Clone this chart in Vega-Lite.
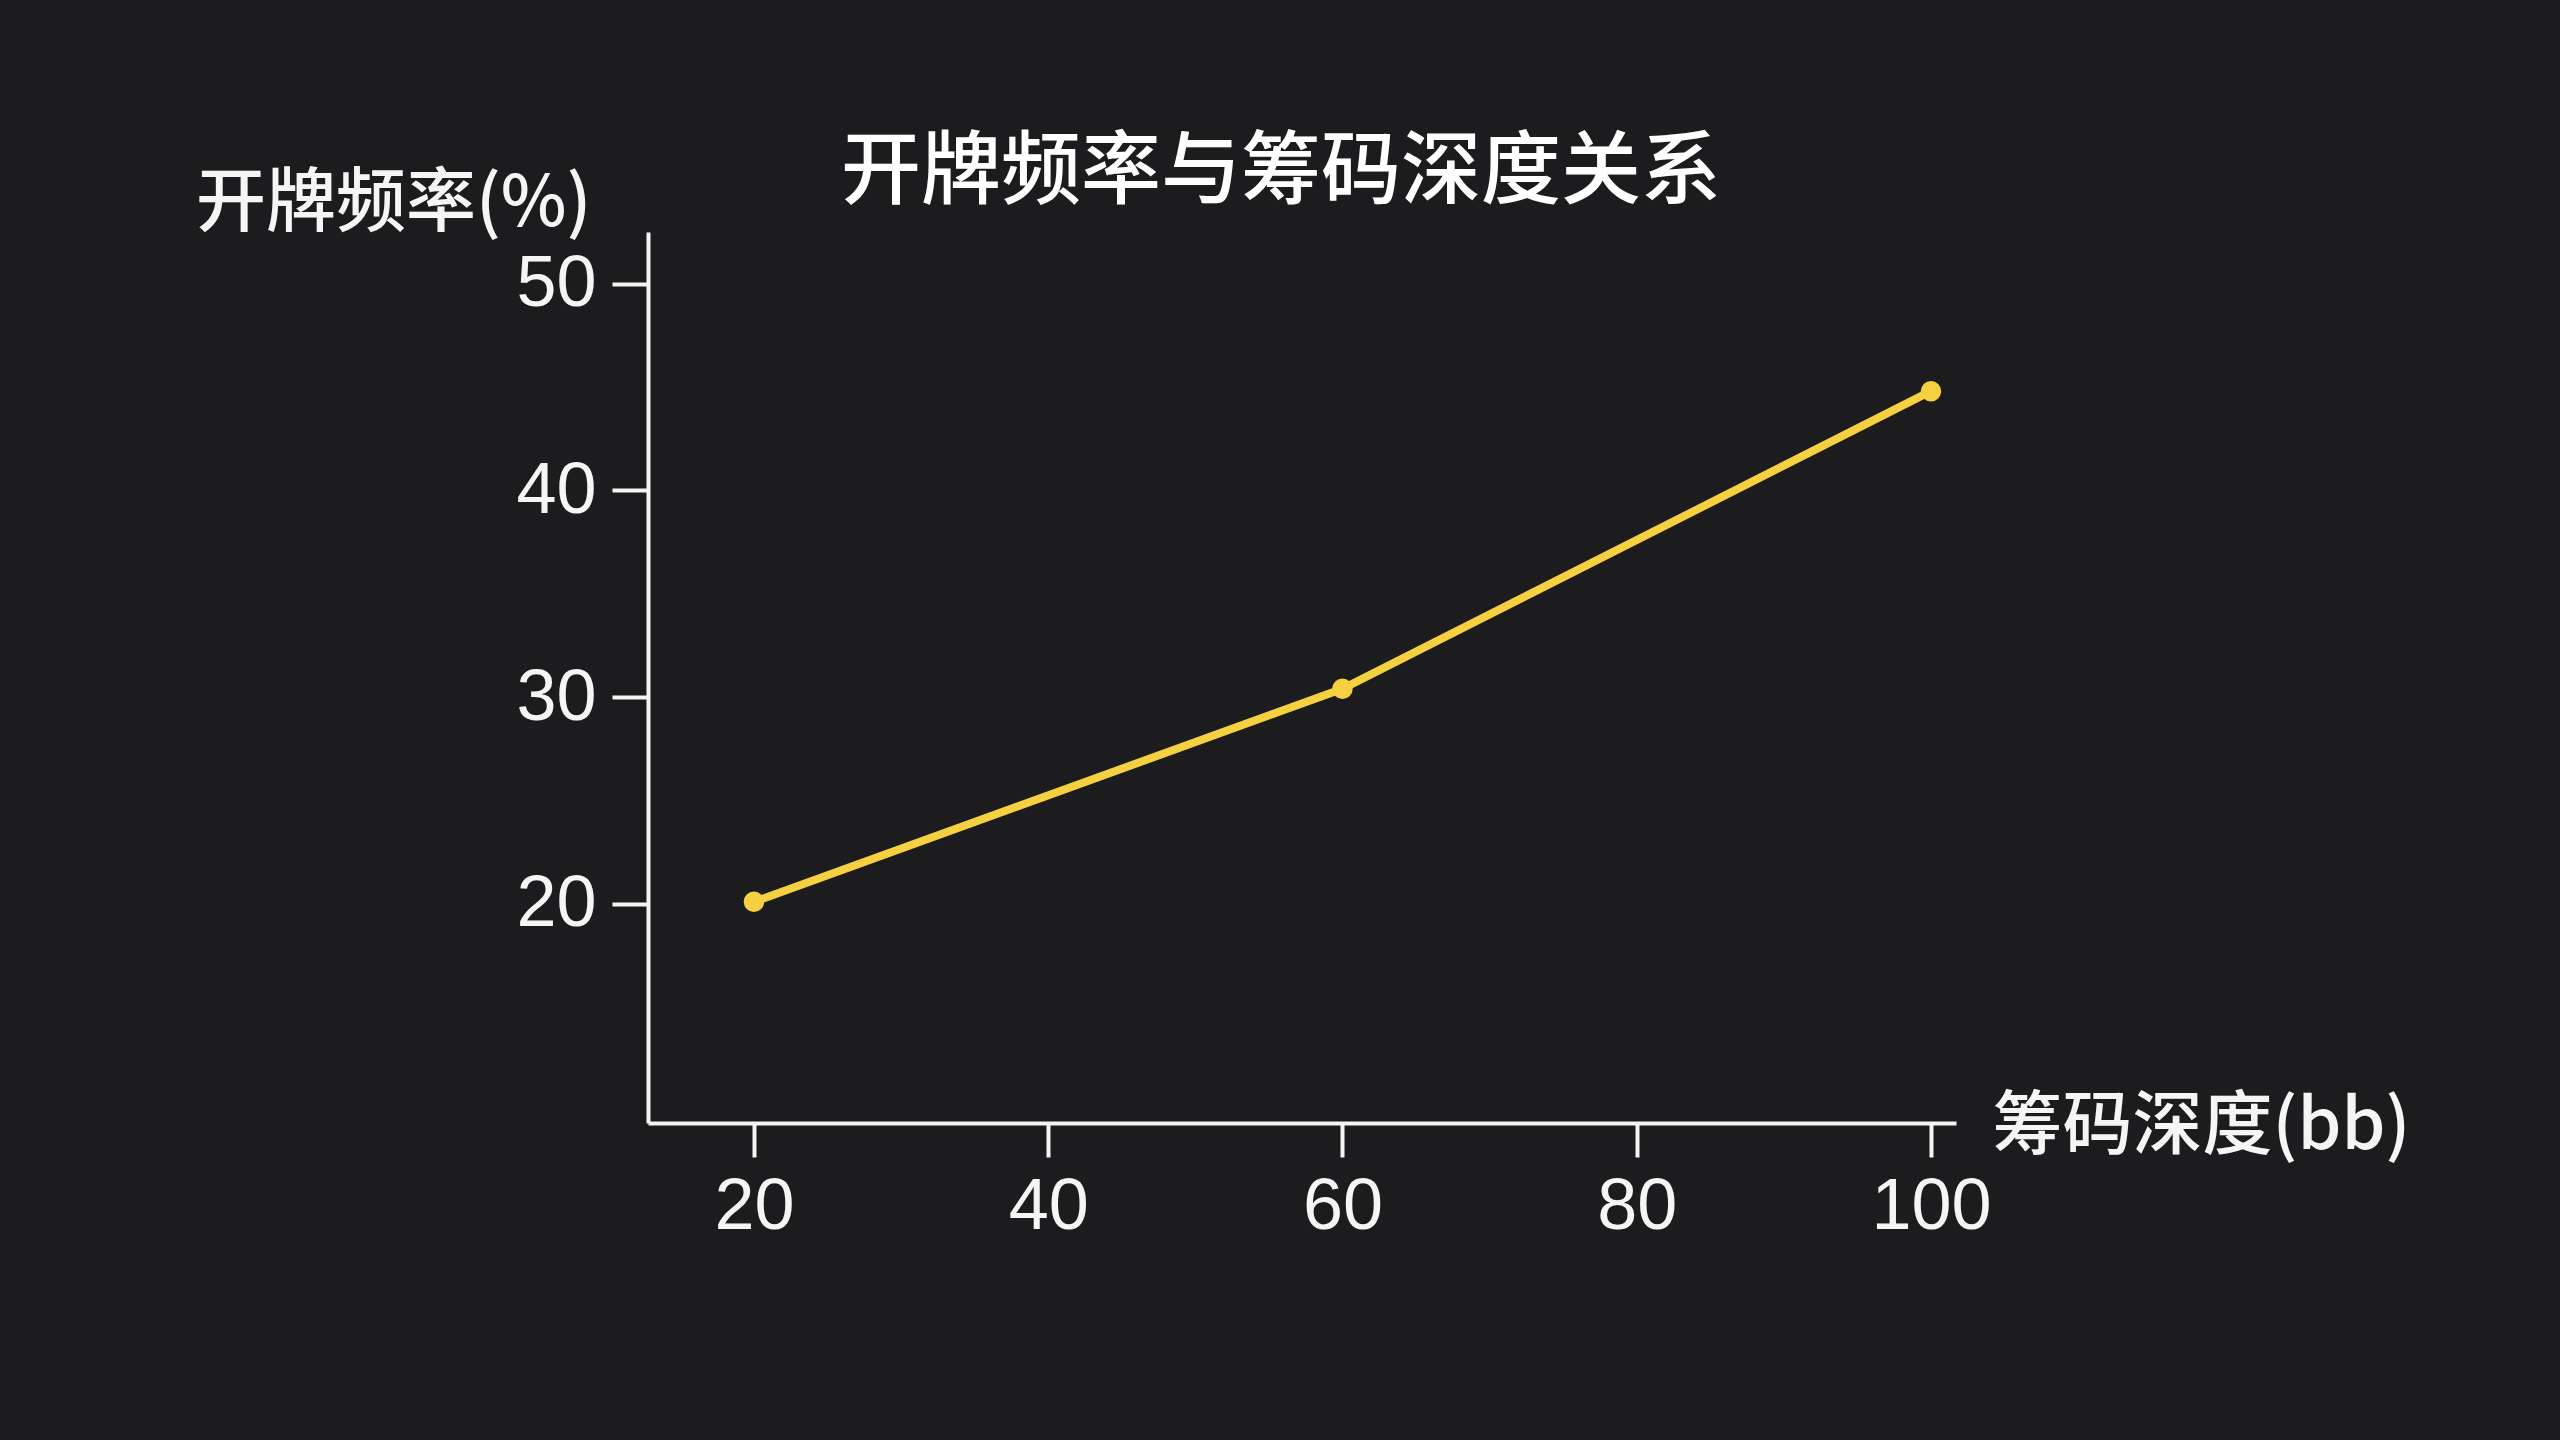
{
  "$schema": "https://vega.github.io/schema/vega-lite/v6.json",
  "width": 1308,
  "height": 891,
  "autosize": {"type": "none"},
  "padding": {"left": 648, "top": 232, "right": 604, "bottom": 317},
  "background": "#1c1c1e",
  "title": {
    "text": "开牌频率与筹码深度关系",
    "font": "Noto Sans CJK SC",
    "fontSize": 80,
    "fontWeight": 500,
    "color": "#ffffff",
    "anchor": "middle",
    "frame": "group",
    "dx": -21,
    "dy": 65,
    "offset": 20
  },
  "data": {
    "values": [
      {"depth": 20, "vpip": 20.1},
      {"depth": 60, "vpip": 30.4},
      {"depth": 100, "vpip": 44.8}
    ]
  },
  "mark": {
    "type": "line",
    "color": "#f5d142",
    "strokeWidth": 8,
    "point": {"filled": true, "size": 420, "color": "#f5d142"}
  },
  "encoding": {
    "x": {
      "field": "depth",
      "type": "quantitative",
      "scale": {"domain": [12.8, 101.7], "nice": false, "zero": false},
      "axis": {
        "values": [20, 40, 60, 80, 100],
        "title": "筹码深度(bb)",
        "titleAngle": 0,
        "titleAlign": "left",
        "titleBaseline": "middle",
        "titleX": 1344,
        "titleY": 4,
        "tickSize": 34,
        "labelPadding": 14
      }
    },
    "y": {
      "field": "vpip",
      "type": "quantitative",
      "scale": {"domain": [9.4, 52.5], "nice": false, "zero": false},
      "axis": {
        "values": [20, 30, 40, 50],
        "title": "开牌频率(%)",
        "titleAngle": 0,
        "titleAlign": "right",
        "titleBaseline": "middle",
        "titleX": -57,
        "titleY": -28,
        "tickSize": 36,
        "labelPadding": 16
      }
    }
  },
  "config": {
    "view": {"stroke": null},
    "axis": {
      "grid": false,
      "domainColor": "#f5f5f5",
      "domainWidth": 4,
      "tickColor": "#f5f5f5",
      "tickWidth": 4,
      "labelColor": "#f5f5f5",
      "labelFont": "Liberation Sans",
      "labelFontSize": 72,
      "titleColor": "#f5f5f5",
      "titleFont": "Noto Sans CJK SC",
      "titleFontSize": 70,
      "titleFontWeight": 500
    }
  }
}
